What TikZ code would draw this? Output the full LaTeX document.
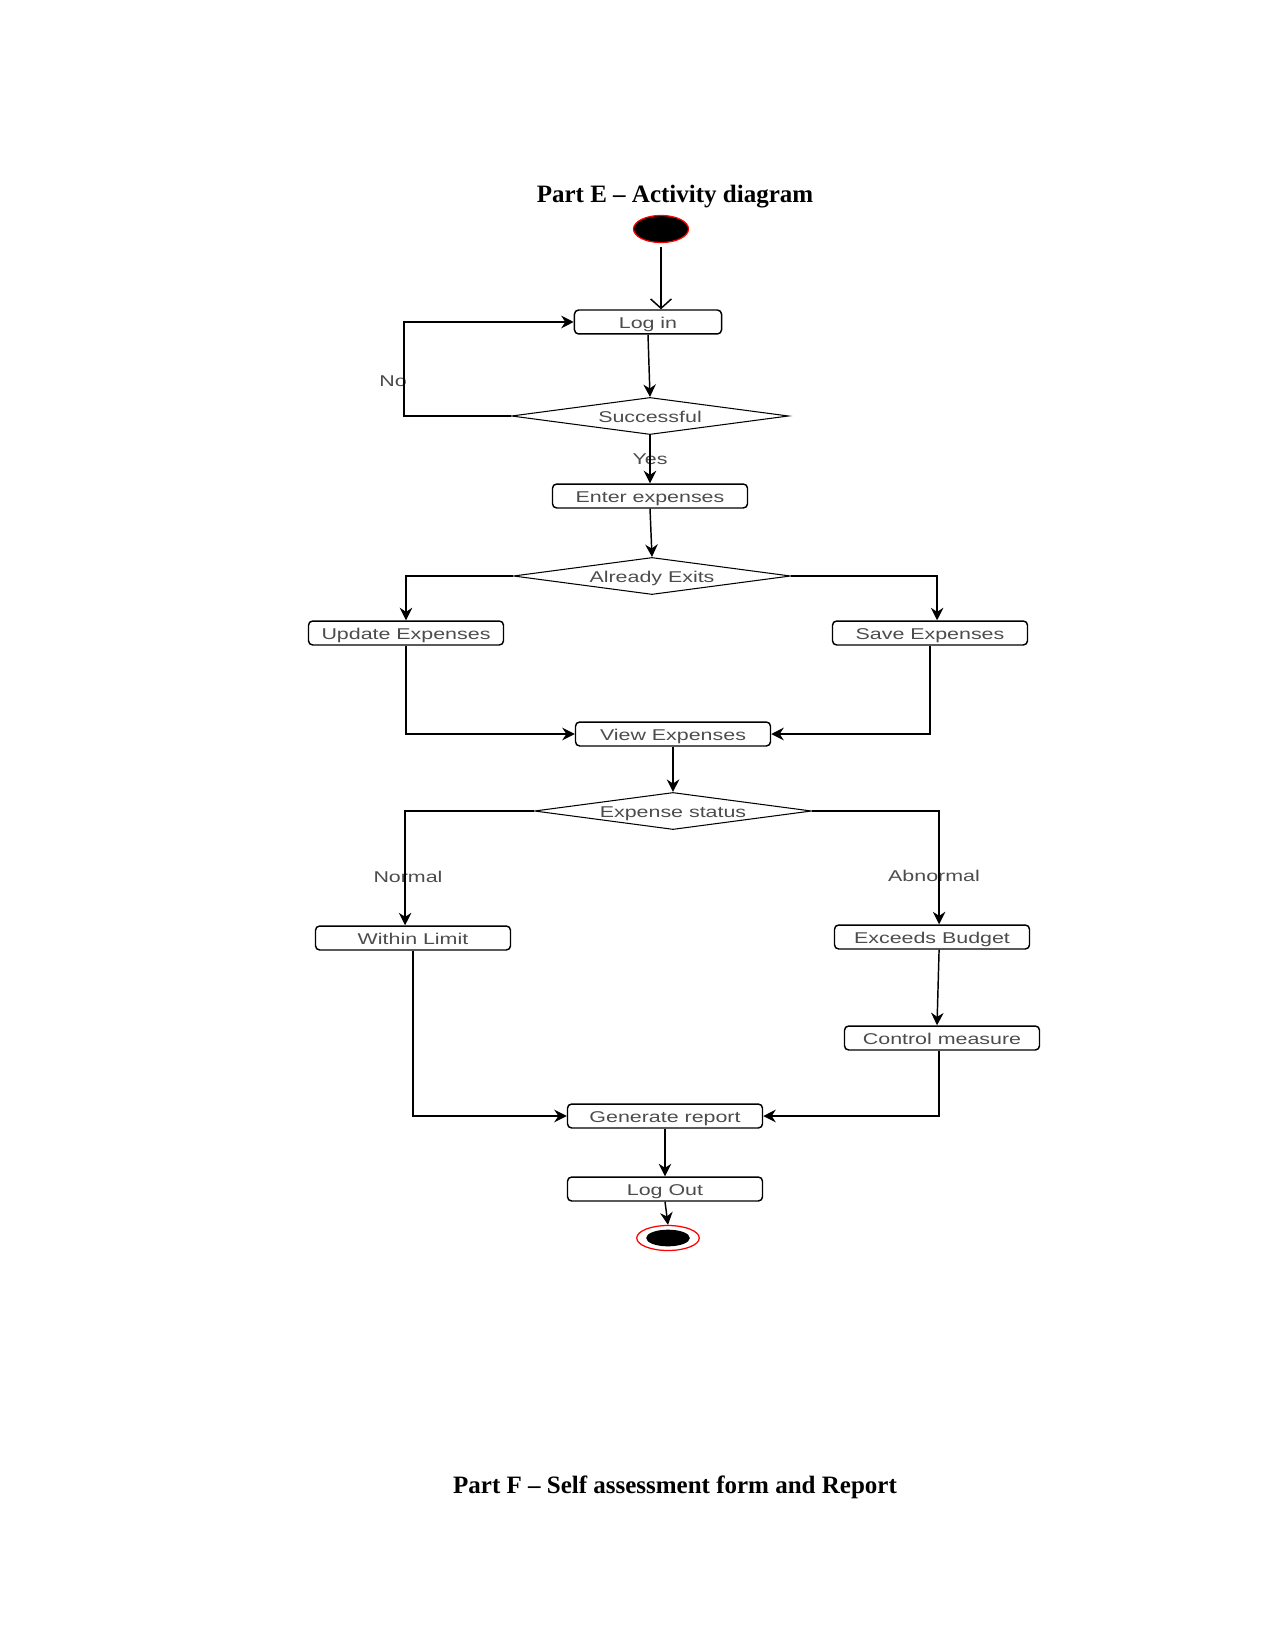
\documentclass[tikz,border=0pt]{standalone}
\usepackage{fontspec}
\setmainfont{Liberation Serif}
\newfontfamily\boxfont[FakeStretch=1.37]{Liberation Sans}
\usetikzlibrary{shapes,arrows.meta,positioning}

\begin{document}
\begin{tikzpicture}[
    x=0.48pt, y=-0.48pt,
    every node/.style={font=\boxfont\fontsize{7.5}{9}\selectfont, text=black!70},
    activity/.style={draw=black, fill=white, rounded corners=2pt, minimum width=93.6pt, minimum height=11.5pt, inner sep=0pt, text height=5.8pt, text depth=0pt, line width=0.7pt},
    decision/.style={draw=black, diamond, aspect=7.5, minimum width=133pt, minimum height=17.8pt, inner sep=0pt, text height=5.8pt, text depth=0pt, line width=0.5pt},
    arrow/.style={-{Stealth[length=6pt,width=6pt]}, line width=0.7pt},
    openarrow/.style={-{Straight Barb[length=4.5pt,width=10pt]}, line width=0.7pt},
    title/.style={font=\fontsize{12}{14}\selectfont\bfseries, text=black, anchor=base}
]
\useasboundingbox (0,0) rectangle (1275,1650);

\node[title] (parte) at (675,203) {Part E -- Activity diagram};
\node[title] (partf) at (675,1493) {Part F -- Self assessment form and Report};

% start and end
\node[ellipse, draw=red, fill=black, minimum width=26.4pt, minimum height=13pt, inner sep=0pt, line width=0.6pt] (start) at (661,229) {};
\node[ellipse, draw=red, fill=white, minimum width=30pt, minimum height=12pt, inner sep=0pt, line width=0.6pt] (stop) at (668,1238) {};
\node[ellipse, fill=black, minimum width=21pt, minimum height=8pt, inner sep=0pt] (stopcore) at (stop) {};

% activities
\node[activity, minimum width=70.6pt] (login) at (648,322) {Log in};
\node[decision] (succ) at (650,416) {Successful};
\node[activity] (enter) at (650,496) {Enter expenses};
\node[decision] (exists) at (652,576) {Already Exits};
\node[activity] (update) at (406,633) {Update Expenses};
\node[activity] (save) at (930,633) {Save Expenses};
\node[activity] (view) at (673,734) {View Expenses};
\node[decision] (status) at (673,811) {Expense status};
\node[activity] (within) at (413,938) {Within Limit};
\node[activity] (exceeds) at (932,937) {Exceeds Budget};
\node[activity] (control) at (942,1038) {Control measure};
\node[activity] (report) at (665,1116) {Generate report};
\node[activity] (logout) at (665,1189) {Log Out};

% guards
\node (nolabel) at (393,381) {No};
\node (yeslabel) at (650,459) {Yes};
\node (normallabel) at (408,877) {Normal};
\node (abnormallabel) at (934,876) {Abnormal};

% flows
\draw[openarrow] ([yshift=-2pt]start.south) -- (start.south |- login.north);
\draw[arrow] (login.south) -- (succ.north);
\draw[arrow] (succ.west) -- ++(-107,0) |- (login.west);
\draw[arrow] (succ.south) -- (enter.north);
\draw[arrow] (enter.south) -- (exists.north);
\draw[arrow] (exists.west) -| (update.north);
\draw[arrow] (exists.east) -| ([xshift=3.4pt]save.north);
\draw[arrow] (update.south) |- (view.west);
\draw[arrow] (save.south) |- (view.east);
\draw[arrow] (view.south) -- (status.north);
\draw[arrow] (status.west) -| ([xshift=-3.8pt]within.north);
\draw[arrow] (status.east) -| ([xshift=3.4pt]exceeds.north);
\draw[arrow] ([xshift=3.4pt]exceeds.south) -- ([xshift=-2.4pt]control.north);
\draw[arrow] ([xshift=-1.4pt]control.south) |- (report.east);
\draw[arrow] (within.south) |- (report.west);
\draw[arrow] (report.south) -- (logout.north);
\draw[arrow] (logout.south) -- (stop.north);
\end{tikzpicture}
\end{document}
